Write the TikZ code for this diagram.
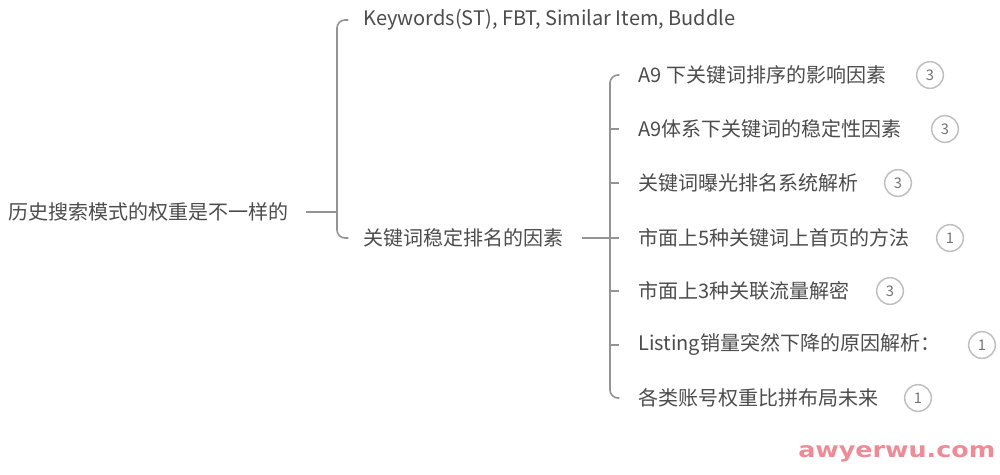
\documentclass[tikz,border=0pt]{standalone}
\usepackage{fontspec}
\setmainfont{Noto Sans CJK SC}
\newfontfamily\wmfont{DejaVu Sans}
\begin{document}
\begin{tikzpicture}[x=0.75pt,y=-0.75pt,
  txt/.style={inner sep=0pt,anchor=west,text=black!70,font=\fontsize{15}{18}\selectfont},
  conn/.style={draw=black!42,line width=1.2pt,rounded corners=6pt},
  badge/.style={circle,draw=black!25,line width=1.1pt,minimum size=20pt,inner sep=0pt,text=black!55,font=\fontsize{11}{13}\selectfont},
]
\useasboundingbox[fill=white] (0,0) rectangle (1000,475);
% root
\node[txt] (root) at (8,212) {历史搜索模式的权重是不一样的};
\node[txt] (kw) at (363,20) {Keywords(ST), FBT, Similar Item, Buddle};
\node[txt] (c2) at (363,238) {关键词稳定排名的因素};
\coordinate (b1) at (337,212);
\draw[conn] ([xshift=13]root.east) -- (b1);
\draw[conn] ([xshift=-11]kw.west) -| (b1) |- ([xshift=-11]c2.west);
% second level
\coordinate (b2) at (610,238);
\foreach \i/\y/\t/\n/\bx in {
  1/75/{A9 下关键词排序的影响因素}/3/930,
  2/129/{A9体系下关键词的稳定性因素}/3/945,
  3/183/{关键词曝光排名系统解析}/3/898,
  4/238/{市面上5种关键词上首页的方法}/1/950,
  5/291/{市面上3种关联流量解密}/3/890,
  6/345/{Listing销量突然下降的原因解析：}/1/982,
  7/398/{各类账号权重比拼布局未来}/1/918}{
  \node[txt] (s\i) at (638,\y) {\t};
  \node[badge] (n\i) at (\bx,\y) {\n};
}
\draw[conn] ([xshift=14]c2.east) -- (b2);
\draw[conn] ([xshift=-14]s1.west) -| (b2) |- ([xshift=-14]s7.west);
\foreach \i in {2,...,6}{
  \draw[conn] (b2 |- s\i.west) -- ([xshift=-14]s\i.west);
}
% watermark
\node[inner sep=0pt,anchor=west,text={rgb,255:red,236;green,140;blue,150},font=\wmfont\bfseries\fontsize{16}{18}\selectfont,xscale=1.19] (wm) at (798,454) {awyerwu.com};
\end{tikzpicture}
\end{document}
